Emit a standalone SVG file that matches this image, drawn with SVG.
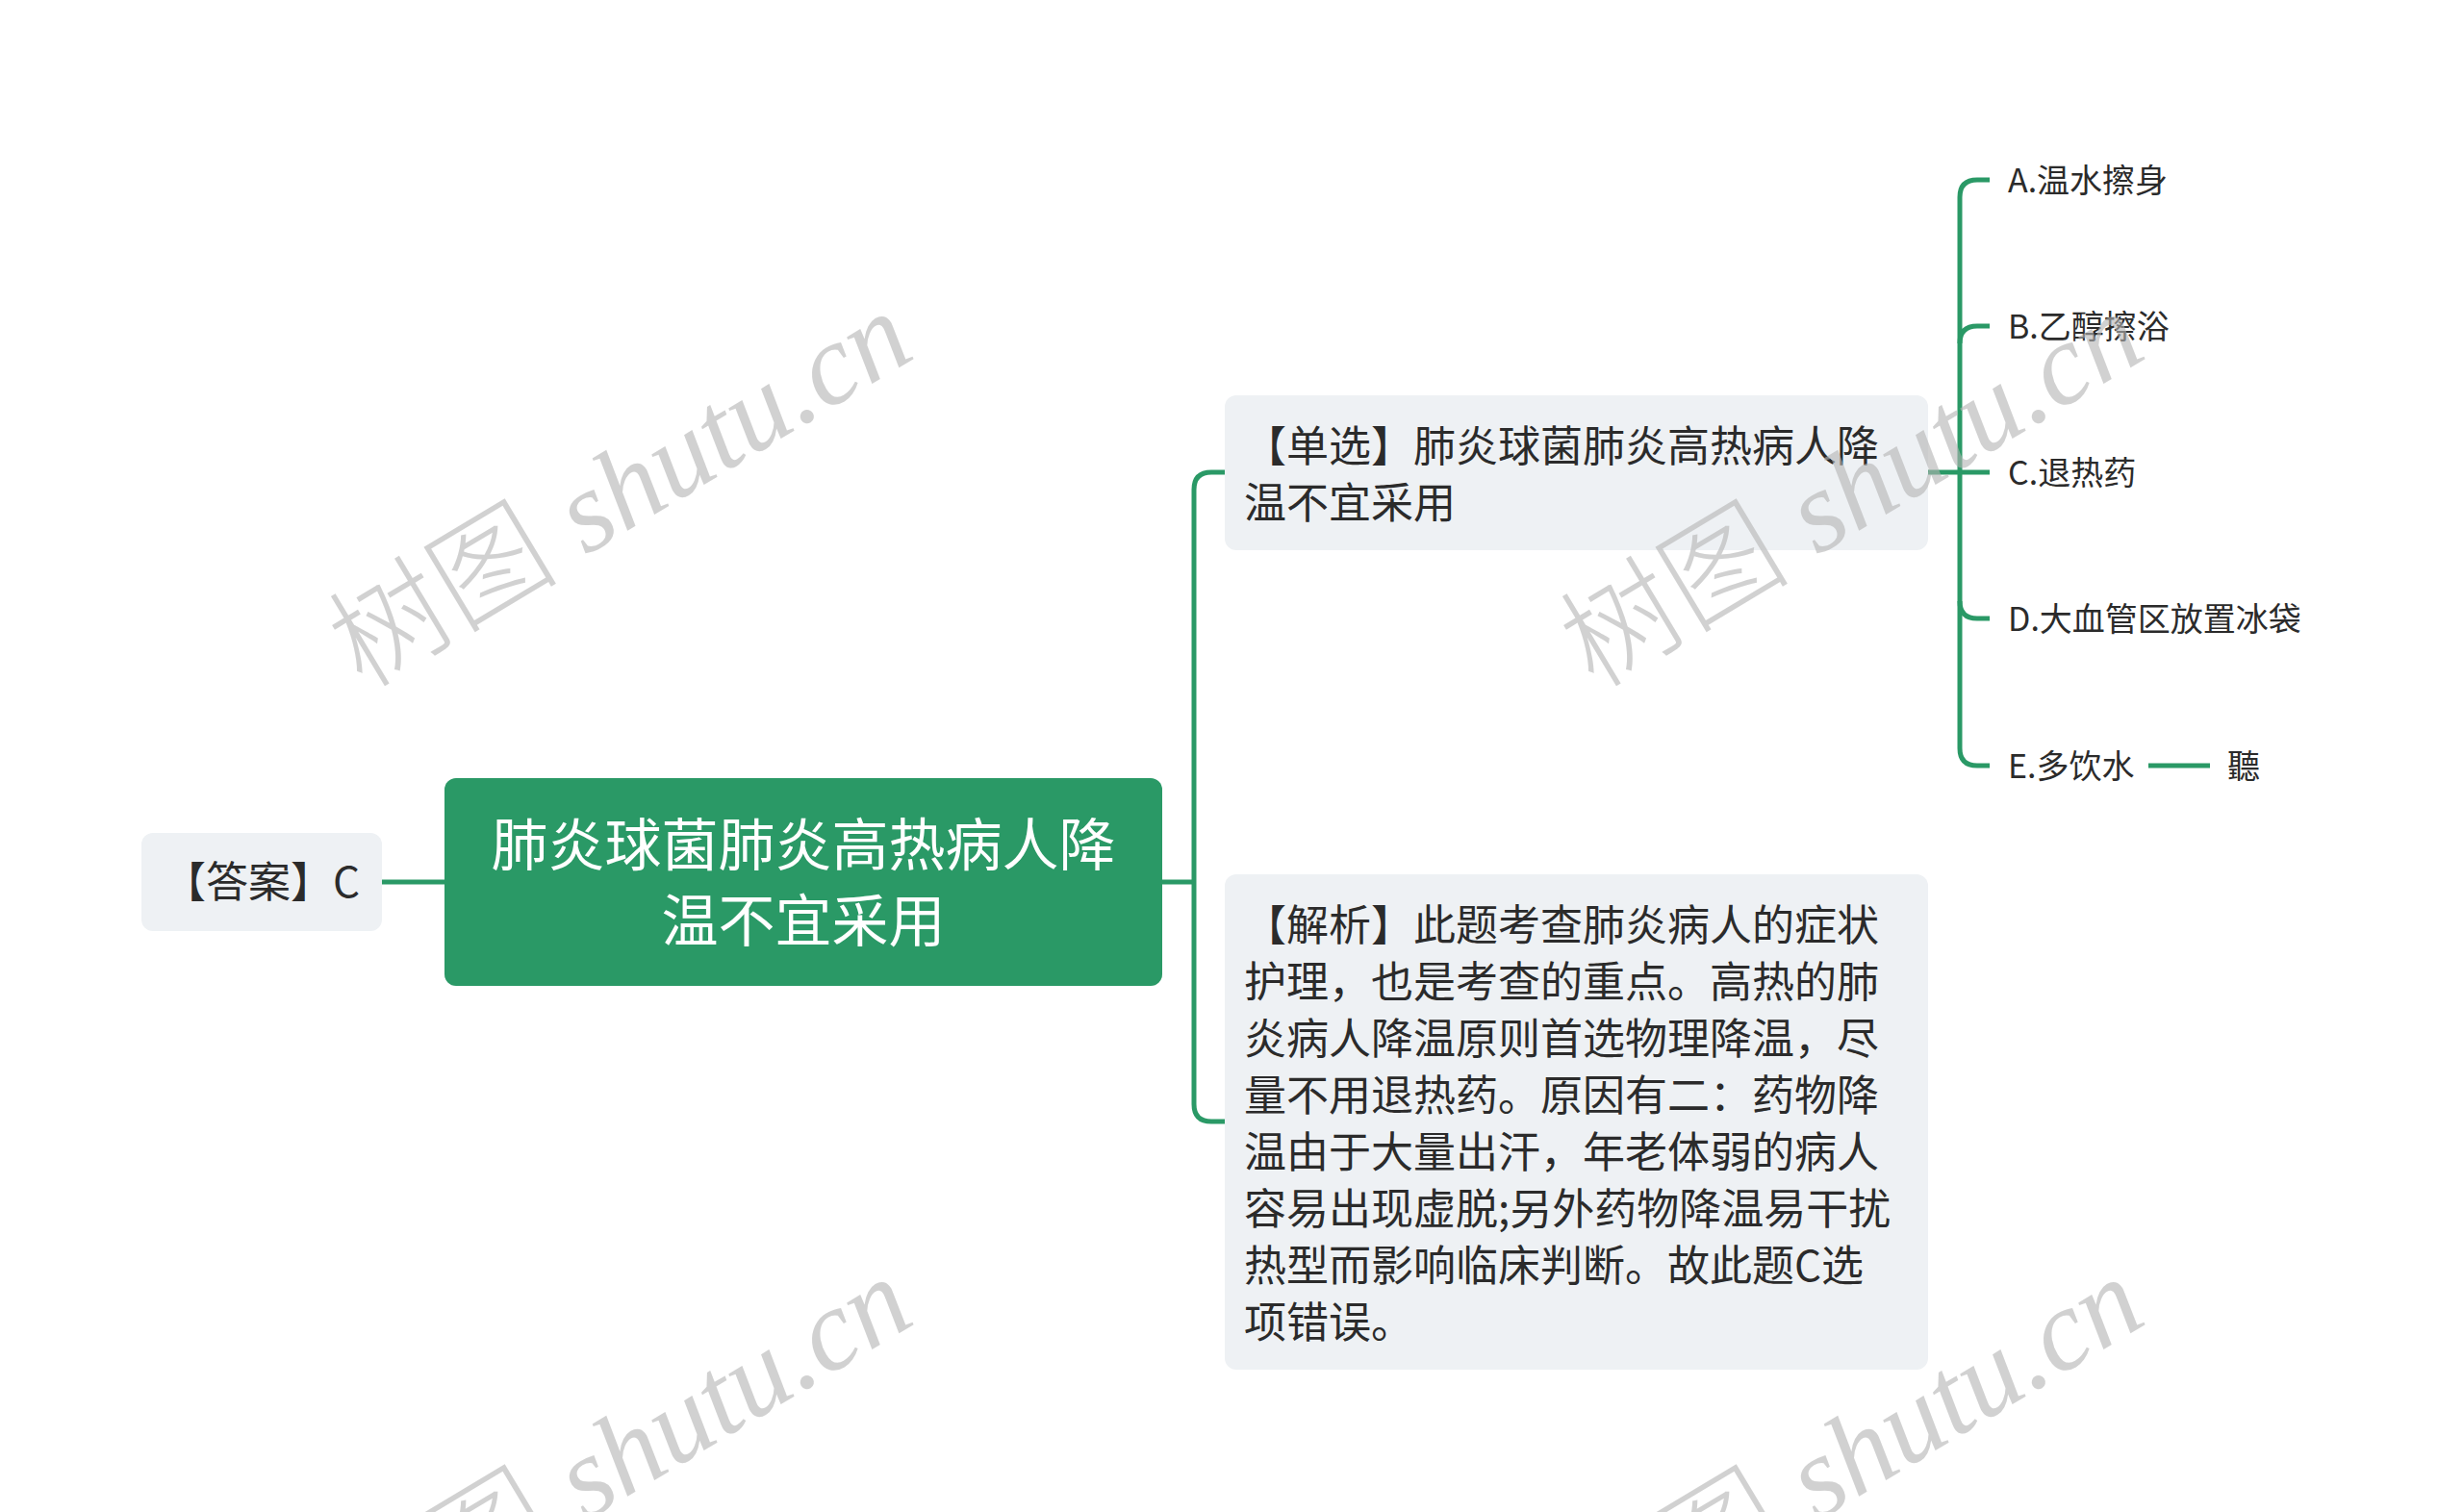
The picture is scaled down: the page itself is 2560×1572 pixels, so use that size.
<svg xmlns="http://www.w3.org/2000/svg" width="2560" height="1572" viewBox="0 0 2560 1572">
<style>
.box{fill:#eef1f4}
.txt{font-family:"Noto Sans CJK SC","Noto Sans",sans-serif;fill:#2b2b2b}
.b44{font-size:44px}
.opt{font-size:34px}
.main{font-family:"Noto Sans CJK SC","Noto Sans",sans-serif;font-size:59px;fill:#ffffff}
.ln{fill:none;stroke:#2a9966;stroke-width:5;stroke-linecap:butt}
.wm{fill:#b4b4b4;opacity:0.6;font-size:120px}
.wmc{font-family:"Noto Sans CJK SC",sans-serif;font-weight:300}
.wms{font-family:"Liberation Serif",serif;font-style:italic}
</style>
<rect width="2560" height="1572" fill="#ffffff"/>
<g id="connectors">
<path class="ln" d="M397,917 H462"/>
<path class="ln" d="M1208,917 H1241"/>
<path class="ln" d="M1273,491 H1259 Q1241,491 1241,509 V1148 Q1241,1166 1259,1166 H1273"/>
<path class="ln" d="M2068,187 H2055 Q2037,187 2037,205 V778 Q2037,796 2055,796 H2068"/>
<path class="ln" d="M2037,357 Q2037,339 2055,339 H2068"/>
<path class="ln" d="M2003,491 H2068"/>
<path class="ln" d="M2037,625 Q2037,643 2055,643 H2068"/>
<path class="ln" d="M2233,796 H2297"/>
</g>
<g id="answer">
<rect class="box" x="147" y="866" width="250" height="102" rx="12"/>
<text class="txt b44" x="272" y="933" text-anchor="middle">【答案】C</text>
</g>
<g id="root">
<rect x="462" y="809" width="746" height="216" rx="12" fill="#2a9966"/>
<text class="main" x="835" y="900" text-anchor="middle">肺炎球菌肺炎高热病人降</text>
<text class="main" x="835" y="979" text-anchor="middle">温不宜采用</text>
</g>
<g id="question">
<rect class="box" x="1273" y="411" width="731" height="161" rx="12"/>
<text class="txt b44" x="1293" y="480">【单选】肺炎球菌肺炎高热病人降</text>
<text class="txt b44" x="1293" y="539">温不宜采用</text>
</g>
<g id="analysis">
<rect class="box" x="1273" y="909" width="731" height="515" rx="12"/>
<text class="txt b44" x="1293" y="978">【解析】此题考查肺炎病人的症状</text>
<text class="txt b44" x="1293" y="1037">护理，也是考查的重点。高热的肺</text>
<text class="txt b44" x="1293" y="1096">炎病人降温原则首选物理降温，尽</text>
<text class="txt b44" x="1293" y="1155">量不用退热药。原因有二：药物降</text>
<text class="txt b44" x="1293" y="1214">温由于大量出汗，年老体弱的病人</text>
<text class="txt b44" x="1293" y="1273">容易出现虚脱;另外药物降温易干扰</text>
<text class="txt b44" x="1293" y="1332">热型而影响临床判断。故此题C选</text>
<text class="txt b44" x="1293" y="1391">项错误。</text>
</g>
<g id="optA"><text class="txt opt" x="2087" y="200">A.温水擦身</text></g>
<g id="optB"><text class="txt opt" x="2087" y="352">B.乙醇擦浴</text></g>
<g id="optC"><text class="txt opt" x="2087" y="504">C.退热药</text></g>
<g id="optD"><text class="txt opt" x="2087" y="656">D.大血管区放置冰袋</text></g>
<g id="optE"><text class="txt opt" x="2087" y="809">E.多饮水</text></g>
<g id="optE1"><text class="txt opt" x="2315" y="809">聽</text></g>
<g id="watermarks">
<text class="wm" transform="translate(377,717) rotate(-31)"><tspan class="wmc">树图</tspan><tspan class="wms"> shutu.cn</tspan></text>
<text class="wm" transform="translate(1657,717) rotate(-31)"><tspan class="wmc">树图</tspan><tspan class="wms"> shutu.cn</tspan></text>
<text class="wm" transform="translate(377,1721) rotate(-31)"><tspan class="wmc">树图</tspan><tspan class="wms"> shutu.cn</tspan></text>
<text class="wm" transform="translate(1657,1721) rotate(-31)"><tspan class="wmc">树图</tspan><tspan class="wms"> shutu.cn</tspan></text>
</g>
</svg>
